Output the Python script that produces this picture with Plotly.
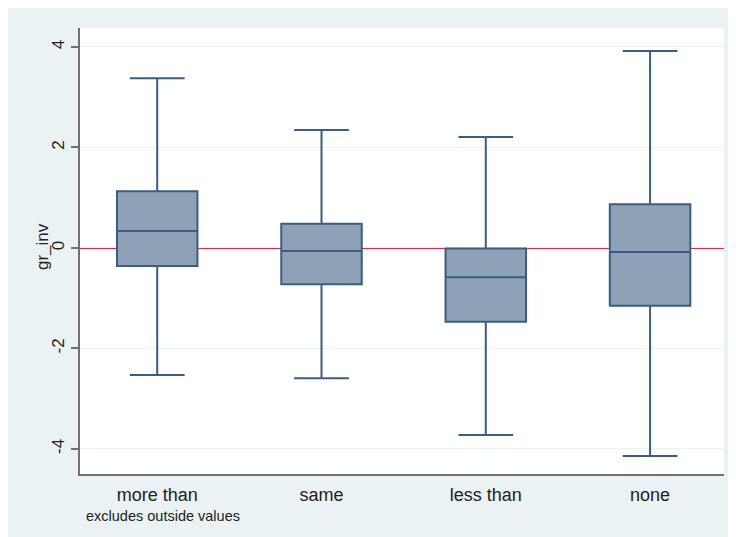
import plotly.graph_objects as go

categories = ["more than", "same", "less than", "none"]
upper_whisker = [3.38, 2.35, 2.21, 3.92]
q3_values = [1.13, 0.48, -0.01, 0.87]
median_values = [0.34, -0.06, -0.58, -0.08]
q1_values = [-0.36, -0.72, -1.47, -1.15]
lower_whisker = [-2.53, -2.59, -3.72, -4.14]
y_ticks = [-4, -2, 0, 2, 4]

# page is offset by the 8px body margin
OFF = 8
W, H = 736, 537
L, T = 72, 20
R = W - (724 - OFF)
B = H - (474 - OFF)
pw, ph = W - L - R, H - T - B

def px_x(x):
    return (x - OFF - L) / pw

def px_y(y):
    return (H - B - (y - OFF)) / ph

BG = "#EAF2F3"
FONT = "Liberation Sans, Arial, sans-serif"

fig = go.Figure()
fig.add_trace(go.Box(
    x=list(range(len(categories))),
    q1=q1_values, median=median_values, q3=q3_values,
    lowerfence=lower_whisker, upperfence=upper_whisker,
    width=0.49, whiskerwidth=0.68,
    fillcolor="#8DA2B6",
    line=dict(color="#3B5D82", width=2),
    boxpoints=False, hoverinfo="skip", showlegend=False,
))

fig.add_hline(y=0, line=dict(color="#C8305A", width=2), layer="below")

fig.add_annotation(
    text="excludes outside values", xref="paper", yref="paper",
    x=px_x(84), y=px_y(516), xanchor="left", yanchor="middle",
    showarrow=False, font=dict(size=14.5, color="#222", family=FONT),
)
fig.add_annotation(
    text="gr_inv", xref="paper", yref="paper",
    x=px_x(42), y=px_y(247), xanchor="center", yanchor="middle",
    textangle=-90, showarrow=False, font=dict(size=17, color="#222", family=FONT),
)

fig.update_layout(
    width=W, height=H,
    margin=dict(l=L, r=R, t=T, b=B),
    paper_bgcolor=BG, plot_bgcolor="white",
    font=dict(family=FONT, size=15, color="#222"),
    xaxis=dict(
        range=[-0.47, 3.45], tickvals=list(range(len(categories))), ticktext=categories,
        showgrid=False, zeroline=False, showline=True, linecolor="#707070", linewidth=1.5,
        ticks="outside", ticklen=4, tickcolor="rgba(0,0,0,0)",
        tickfont=dict(size=18, family=FONT, color="#222"),
    ),
    yaxis=dict(
        range=[-4.498, 4.378], tickvals=y_ticks, ticktext=[str(v) for v in y_ticks],
        tickangle=-90, showgrid=True, gridcolor=BG, gridwidth=1.2, zeroline=False,
        showline=True, linecolor="#707070", linewidth=1.5,
        ticks="outside", ticklen=7, tickcolor="#707070", tickwidth=1.5,
        tickfont=dict(size=17, family=FONT, color="#222"),
    ),
)

fig.write_html("out.html")
